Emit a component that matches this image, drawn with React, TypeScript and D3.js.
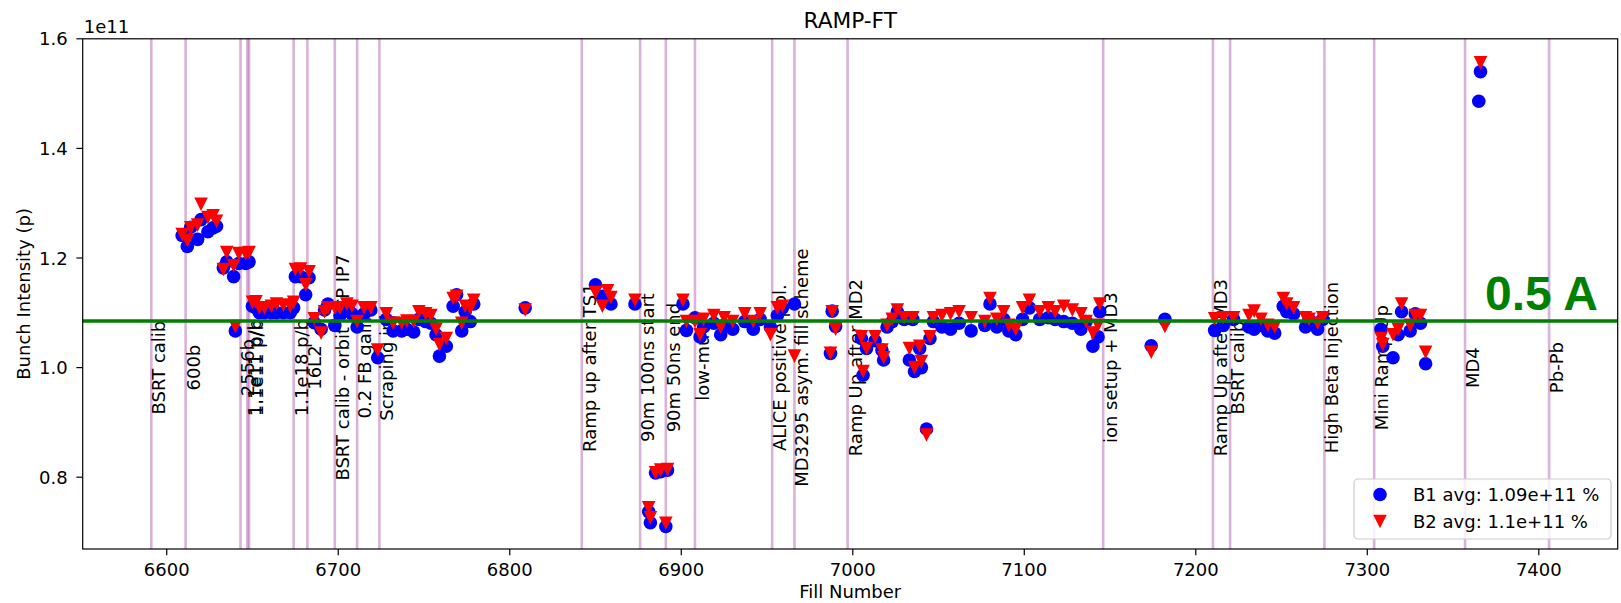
import React from "react";
import * as d3 from "d3";

// fill numbers and average bunch intensities (units of 1e11 protons)
const fills = [
  6609, 6612, 6614, 6618, 6620, 6624, 6627, 6629, 6633, 6635, 6639, 6640, 6642, 6646, 6648,
  6650, 6652, 6654, 6657, 6661, 6664, 6668, 6672, 6674, 6675, 6678, 6681, 6683, 6686, 6690,
  6692, 6694, 6698, 6701, 6705, 6708, 6711, 6715, 6719, 6723, 6728, 6732, 6737, 6740, 6744,
  6747, 6751, 6754, 6757, 6759, 6763, 6767, 6769, 6772, 6774, 6777, 6779, 6809, 6850, 6854,
  6857, 6859, 6873, 6881, 6882, 6885, 6888, 6891, 6892, 6901, 6903, 6908, 6911, 6913, 6919,
  6923, 6925, 6930, 6937, 6942, 6946, 6952, 6956, 6959, 6966, 6987, 6988, 6990, 7005, 7006,
  7008, 7013, 7017, 7018, 7020, 7023, 7026, 7030, 7033, 7035, 7036, 7039, 7040, 7043, 7045,
  7047, 7052, 7057, 7062, 7069, 7077, 7080, 7084, 7088, 7091, 7095, 7099, 7103, 7109, 7114,
  7118, 7123, 7128, 7133, 7136, 7140, 7143, 7144, 7174, 7182, 7211, 7216, 7222, 7231, 7234,
  7238, 7242, 7246, 7251, 7253, 7257, 7264, 7266, 7271, 7274, 7308, 7309, 7315, 7318, 7320,
  7325, 7328, 7331, 7334, 7365, 7366,
];

const b1 = [
  1.241, 1.221, 1.256, 1.234, 1.27, 1.248, 1.255, 1.258, 1.182, 1.193, 1.166, 1.067, 1.19, 1.19, 1.193,
  1.112, 1.109, 1.1, 1.1, 1.1, 1.1, 1.1, 1.1, 1.109, 1.166, 1.166, 1.133, 1.164, 1.082, 1.07,
  1.105, 1.116, 1.077, 1.095, 1.109, 1.098, 1.074, 1.098, 1.105, 1.018, 1.088, 1.067, 1.067, 1.07, 1.065,
  1.088, 1.084, 1.081, 1.06, 1.021, 1.039, 1.112, 1.133, 1.067, 1.102, 1.084, 1.116, 1.109, 1.151, 1.13,
  1.125, 1.116, 1.116, 0.737, 0.717, 0.808, 0.81, 0.71, 0.813, 1.116, 1.068, 1.091, 1.056, 1.074, 1.081,
  1.06, 1.077, 1.07, 1.084, 1.07, 1.088, 1.074, 1.095, 1.109, 1.116, 1.026, 1.103, 1.075, 1.053, 0.986,
  1.035, 1.049, 1.032, 1.014, 1.074, 1.084, 1.102, 1.088, 1.014, 1.088, 0.993, 1.035, 1.0, 0.888, 1.053,
  1.084, 1.074, 1.07, 1.081, 1.067, 1.077, 1.116, 1.074, 1.088, 1.067, 1.06, 1.088, 1.109, 1.088, 1.091,
  1.088, 1.084, 1.081, 1.07, 1.084, 1.039, 1.056, 1.102, 1.04, 1.088, 1.068, 1.077, 1.088, 1.074, 1.07,
  1.077, 1.067, 1.063, 1.112, 1.102, 1.098, 1.074, 1.088, 1.07, 1.088, 1.07, 1.039, 1.018, 1.06, 1.102,
  1.067, 1.098, 1.081, 1.007, 1.486, 1.54,
];

const b2 = [
  1.243, 1.232, 1.255, 1.26, 1.298, 1.274, 1.277, 1.267, 1.179, 1.21, 1.186, 1.075, 1.208, 1.208, 1.21,
  1.119, 1.12, 1.109, 1.109, 1.112, 1.116, 1.114, 1.112, 1.119, 1.179, 1.18, 1.151, 1.175, 1.089, 1.063,
  1.102, 1.109, 1.109, 1.109, 1.116, 1.112, 1.084, 1.109, 1.109, 1.032, 1.098, 1.081, 1.081, 1.085, 1.084,
  1.102, 1.098, 1.095, 1.07, 1.042, 1.053, 1.126, 1.13, 1.081, 1.112, 1.109, 1.123, 1.105, 1.137, 1.112,
  1.14, 1.128, 1.123, 0.744, 0.726, 0.808, 0.813, 0.716, 0.814, 1.123, 1.084, 1.084, 1.06, 1.088, 1.095,
  1.074, 1.091, 1.084, 1.098, 1.084, 1.098, 1.06, 1.109, 1.112, 1.021, 1.026, 1.102, 1.07, 1.056, 0.993,
  1.035, 1.056, 1.032, 1.018, 1.077, 1.088, 1.105, 1.091, 1.035, 1.091, 1.0, 1.039, 1.011, 0.877, 1.056,
  1.091, 1.095, 1.098, 1.102, 1.091, 1.084, 1.126, 1.088, 1.102, 1.077, 1.07, 1.109, 1.123, 1.102, 1.109,
  1.102, 1.112, 1.105, 1.098, 1.084, 1.063, 1.077, 1.116, 1.028, 1.075, 1.089, 1.091, 1.091, 1.095, 1.103,
  1.088, 1.077, 1.074, 1.126, 1.116, 1.109, 1.091, 1.088, 1.081, 1.091, 1.053, 1.042, 1.06, 1.07, 1.116,
  1.077, 1.095, 1.095, 1.028, null, 1.556,
];

// machine events marked with vertical lines
const eventFills = [
  6591, 6611, 6643, 6647, 6648, 6674, 6682, 6698, 6711, 6724, 6842, 6876, 6891, 6908, 6953,
  6966, 6997, 7146, 7210, 7220, 7275, 7304, 7357, 7406,
];
const eventLabels = [
  "BSRT calib", "600b", "2556b", "1.1e11 p/b", "1.1e11 p/b", "1.1e18 p/b", "16L2",
  "BSRT calib - orbit TCP IP7", "0.2 FB gain", "Scraping inj", "Ramp up after TS1",
  "90m 100ns start", "90m 50ns end", "low-mu", "ALICE positive pol.",
  "MD3295 asym. fill scheme", "Ramp Up after MD2", "ion setup + MD3", "Ramp Up after MD3",
  "BSRT calib", "High Beta Injection", "Mini Ramp Up", "MD4", "Pb-Pb",
];

const xTicks = [6600, 6700, 6800, 6900, 7000, 7100, 7200, 7300, 7400];
const yTicks = [0.8, 1.0, 1.2, 1.4, 1.6];
const limit05A = 1.085;
const legendLabels = ["B1 avg: 1.09e+11 %", "B2 avg: 1.1e+11 %"];

const W = 1621;
const H = 603;
const FONT = "'DejaVu Sans', sans-serif";

export default function App() {
  const x = d3.scaleLinear().domain([6551, 7446]).range([82.7, 1617.7]);
  const y = d3.scaleLinear().domain([0.669, 1.6]).range([549, 38.8]);
  const [x0, x1] = x.range();
  const [yb, yt] = y.range();
  const r = 6.8;

  // downward triangle, like matplotlib's 'v' marker
  const tri = (cx: number, cy: number) =>
    `M${cx - r},${cy - r}L${cx + r},${cy - r}L${cx},${cy + r}Z`;

  const lx = 1380;

  return (
    <svg
      width={W}
      height={H}
      style={{ position: "absolute", left: 0, top: 0, display: "block", background: "#fff" }}
      fontFamily={FONT}
    >
      {/* event lines */}
      {eventFills.map((f, i) => (
        <line key={"v" + i} x1={x(f)} x2={x(f)} y1={yb} y2={yt}
          stroke="purple" strokeOpacity={0.3} strokeWidth={2.6} />
      ))}
      {eventFills.map((f, i) => (
        <text key={"t" + i} fontSize={18} textAnchor="middle" fill="#000"
          transform={`translate(${x(f) + 14},${y(1.0)}) rotate(-90)`}>
          {eventLabels[i]}
        </text>
      ))}

      {/* data */}
      {fills.map((f, i) => (
        <circle key={"b1" + i} cx={x(f)} cy={y(b1[i])} r={r} fill="#0000ff" />
      ))}
      {fills.map((f, i) =>
        b2[i] == null ? null : (
          <path key={"b2" + i} d={tri(x(f), y(b2[i] as number))} fill="#ff0000" />
        )
      )}

      {/* 0.5 A reference */}
      <line x1={x0} x2={x1} y1={y(limit05A)} y2={y(limit05A)} stroke="#008000" strokeWidth={3.6} />
      <text x={1485} y={y(limit05A) - 11} fontFamily="'Liberation Sans', Arial, sans-serif"
        fontWeight="bold" fontSize={48} fill="#008000">0.5 A</text>

      {/* axes frame */}
      <rect x={x0} y={yt} width={x1 - x0} height={yb - yt} fill="none" stroke="#000" strokeWidth={1.2} />

      {xTicks.map((t) => (
        <g key={"xt" + t}>
          <line x1={x(t)} x2={x(t)} y1={yb} y2={yb + 6.3} stroke="#000" strokeWidth={1.2} />
          <text x={x(t)} y={yb + 27} fontSize={18} textAnchor="middle" fill="#000">{t}</text>
        </g>
      ))}
      {yTicks.map((t) => (
        <g key={"yt" + t}>
          <line x1={x0 - 6.3} x2={x0} y1={y(t)} y2={y(t)} stroke="#000" strokeWidth={1.2} />
          <text x={x0 - 15} y={y(t) + 6.5} fontSize={18} textAnchor="end" fill="#000">{t.toFixed(1)}</text>
        </g>
      ))}
      <text x={x0 + 1} y={yt - 6} fontSize={18} fill="#000">1e11</text>

      <text x={(x0 + x1) / 2} y={yb + 49} fontSize={18} textAnchor="middle" fill="#000">Fill Number</text>
      <text fontSize={18} textAnchor="middle" fill="#000"
        transform={`translate(30,${(yb + yt) / 2}) rotate(-90)`}>Bunch Intensity (p)</text>
      <text x={(x0 + x1) / 2} y={28} fontSize={21.7} textAnchor="middle" fill="#000">RAMP-FT</text>

      {/* legend */}
      <rect x={1354} y={479} width={257} height={60} rx={4} fill="#fff" fillOpacity={0.8}
        stroke="#cccccc" strokeWidth={1.2} />
      <circle cx={lx} cy={494.5} r={r} fill="#0000ff" />
      <path d={tri(lx, 521.5)} fill="#ff0000" />
      <text x={1413} y={501} fontSize={18} fill="#000">{legendLabels[0]}</text>
      <text x={1413} y={528} fontSize={18} fill="#000">{legendLabels[1]}</text>
    </svg>
  );
}
